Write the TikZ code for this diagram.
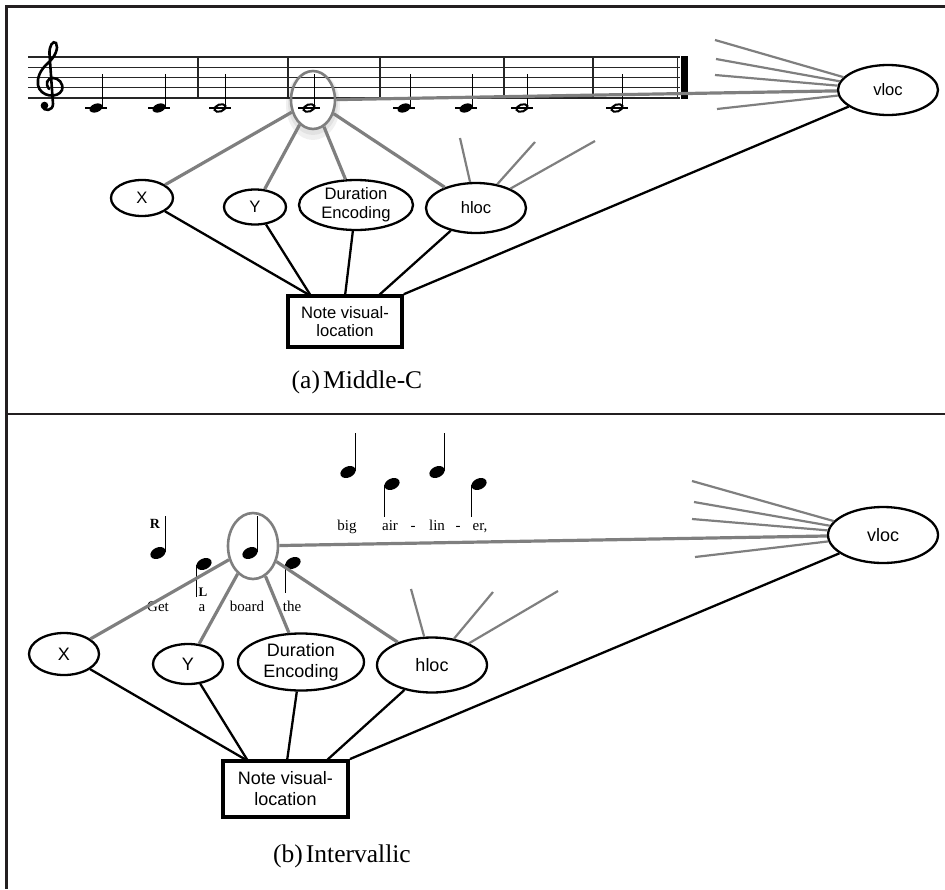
\documentclass[tikz,border=0pt]{standalone}
\usepackage{fontspec}
\setmainfont{Liberation Serif}
\setsansfont{Liberation Sans}
\usetikzlibrary{shapes.geometric}
\definecolor{lgray}{HTML}{7F7F7F}
\definecolor{framecol}{HTML}{231F20}
\begin{document}
\begin{tikzpicture}[x=1pt,y=-1pt,
  oval/.style={ellipse, draw=black, line width=2.3, fill=white, inner sep=0pt, align=center, font=\sffamily\fontsize{16.6}{19}\selectfont},
  ovalb/.style={oval, font=\sffamily\fontsize{18}{21}\selectfont},
  notebox/.style={rectangle, draw=black, line width=3.6, fill=white, inner sep=0pt, align=center, font=\sffamily\fontsize{16.6}{18}\selectfont},
  noteboxb/.style={notebox, line width=3.9, font=\sffamily\fontsize{18}{21}\selectfont},
  sel/.style={ellipse, draw=lgray, line width=2.6, inner sep=0pt},
  gline/.style={draw=lgray, line width=3.2},
  fline/.style={draw=lgray, line width=2.2},
  bline/.style={draw=black, line width=2.3},
  staffline/.style={draw=black!85, line width=1.3},
  qhead/.style={ellipse, fill=black, inner sep=0pt, minimum width=13.5, minimum height=8.5, rotate=20},
  hhead/.style={ellipse, draw=black, line width=2, inner sep=0pt, minimum width=11.5, minimum height=7, rotate=20},
  bhead/.style={ellipse, fill=black, inner sep=0pt, minimum width=16, minimum height=11, rotate=25},
  stem/.style={draw=black, line width=1.2},
  lyric/.style={font=\fontsize{15}{17}\selectfont, anchor=base, inner sep=0pt},
  fing/.style={font=\bfseries\fontsize{14}{16}\selectfont, anchor=base, inner sep=0pt},
  caption/.style={font=\fontsize{25.5}{28}\selectfont, anchor=base, inner sep=0pt},
]
\useasboundingbox (0,0) rectangle (945,889);

% frame
\draw[framecol, line width=2.6] (945,6.5) -- (6.5,6.5) -- (6.5,889);
\draw[framecol, line width=2.6] (6.5,414) -- (945,414);

% ================= panel (a) =================
% staff
\foreach \y in {57,67.25,77.5,87.75,98} \draw[staffline] (28,\y) -- (680,\y);
\foreach \x in {198,288,380,504,593} \draw[staffline] (\x,57) -- (\x,98);
\draw[staffline] (677.5,57) -- (677.5,98);
\fill[black] (680.5,56.4) rectangle (687.5,98.6);
% treble clef
\draw[line width=2.6, line cap=round] (42,106) .. controls (44,112) and (53,111) .. (53,104) -- (49.5,54)
  .. controls (49,46) and (53,40) .. (56,43) .. controls (59,48) and (55,57) .. (48,63)
  .. controls (40,70) and (37,78) .. (38,85) .. controls (40,97) and (58,99) .. (62,90)
  .. controls (64,83) and (58,78) .. (53,78) .. controls (47,78) and (45,84) .. (49,89);
\fill[black] (44.5,105.5) circle (3.8);
% ledger lines
\foreach \x in {96,159,220,309,404,466,522,617}
  \draw[line width=1.2] (\x-11,108) -- (\x+11,108);
% quarter notes
\foreach \x in {96,159,404,466}{
  \node[qhead] at (\x,108) {};
  \draw[stem] (\x+6.3,107) -- (\x+6.3,74);
}
% half notes
\foreach \x in {220,309,522,617}{
  \node[hhead] at (\x,108) {};
  \draw[stem] (\x+5.6,107) -- (\x+5.6,74);
}
% glow under selected note
\fill[black, opacity=0.06, even odd rule] (313,105) ellipse (27 and 35) (313,100) ellipse (22 and 29);
\fill[black, opacity=0.06, even odd rule] (313,103) ellipse (25 and 32) (313,100) ellipse (22 and 29);
\node[sel, minimum width=44, minimum height=58] (ovA) at (313,100) {};

% nodes
\node[oval, minimum width=62, minimum height=36] (Xa) at (142,198) {X};
\node[oval, minimum width=62, minimum height=35] (Ya) at (255,207) {Y};
\node[oval, minimum width=114, minimum height=50] (Da) at (356,205) {Duration\\Encoding};
\node[oval, minimum width=100, minimum height=50] (Ha) at (476,208) {hloc};
\node[oval, minimum width=100, minimum height=50] (Va) at (888,90) {vloc};
\node[notebox, minimum width=114, minimum height=51] (Ba) at (345,321.5) {Note visual-\\location};

% free ends
\coordinate (ba1) at (311,296);
\coordinate (ba2) at (345,296);
\coordinate (ba3) at (378,296);
\coordinate (fa1) at (715,40);
\coordinate (fa2) at (716,59);
\coordinate (fa3) at (715,75);
\coordinate (fa4) at (717,109);
\coordinate (ha1) at (460,138);
\coordinate (ha2) at (535,142);
\coordinate (ha3) at (595,141);

% connectors
\draw[bline] (Xa) -- (ba1);
\draw[bline] (Ya) -- (ba1);
\draw[bline] (Da) -- (ba2);
\draw[bline] (Ha) -- (ba3);
\draw[bline] (Va) -- (Ba.north east);
\draw[gline] (ovA) -- (Xa);
\draw[gline] (ovA) -- (Ya);
\draw[gline] (ovA) -- (Da);
\draw[gline] (ovA) -- (Ha);
\draw[gline] (ovA) -- (Va);
\foreach \c in {fa1,fa2,fa3,fa4} \draw[fline] (\c) -- (Va);
\foreach \c in {ha1,ha2,ha3} \draw[fline] (\c) -- (Ha);

\node[caption] (capA) at (357,388) {(a)\hspace{0.12em}Middle-C};

% ================= panel (b) =================
% lyrics
\node[lyric] (lg) at (158,611) {Get};
\node[lyric] (la) at (202,611) {a};
\node[lyric] (lbo) at (247,611) {board};
\node[lyric] (lt) at (292,611) {the};
\node[lyric] (lbi) at (347,530) {big};
\node[lyric] (lai) at (390,530) {air};
\node[lyric] (ld1) at (413,530) {-};
\node[lyric] (lli) at (437,530) {lin};
\node[lyric] (ld2) at (458,530) {-};
\node[lyric] (ler) at (480,530) {er,};
\node[fing] (fR) at (155,528) {R};
\node[fing, font=\bfseries\fontsize{13}{15}\selectfont] (fL) at (203,596) {L};
% notes
\node[bhead] at (158,553) {};  \draw[stem] (165.5,552) -- (165.5,516);
\node[bhead] at (204,564) {};  \draw[stem] (196.5,565) -- (196.5,597);
\node[bhead] at (250,553) {};  \draw[stem] (257.5,552) -- (257.5,516);
\node[bhead] at (293,563) {};  \draw[stem] (285.5,564) -- (285.5,593);
\node[bhead] at (348,472) {};  \draw[stem] (355.5,471) -- (355.5,433);
\node[bhead] at (392,484) {};  \draw[stem] (384.5,485) -- (384.5,517);
\node[bhead] at (437,472) {};  \draw[stem] (444.5,471) -- (444.5,433);
\node[bhead] at (479,484) {};  \draw[stem] (471.5,485) -- (471.5,517);
\node[sel, minimum width=50, minimum height=66] (ovB) at (253,546) {};

% nodes
\node[ovalb, minimum width=70, minimum height=42] (Xb) at (64,654) {X};
\node[ovalb, minimum width=70, minimum height=40] (Yb) at (188,664) {Y};
\node[ovalb, minimum width=126, minimum height=57] (Db) at (301,662) {Duration\\Encoding};
\node[ovalb, minimum width=110, minimum height=55] (Hb) at (432,665) {hloc};
\node[ovalb, minimum width=110, minimum height=56] (Vb) at (883,535) {vloc};
\node[noteboxb, minimum width=125, minimum height=56] (Bb) at (285.5,789) {Note visual-\\location};

\coordinate (bb1) at (248,761);
\coordinate (bb2) at (287,761);
\coordinate (bb3) at (326,761);
\coordinate (fb1) at (692,481);
\coordinate (fb2) at (694,502);
\coordinate (fb3) at (692,519);
\coordinate (fb4) at (695,557);
\coordinate (hb1) at (411,589);
\coordinate (hb2) at (493,592);
\coordinate (hb3) at (558,591);

\draw[bline] (Xb) -- (bb1);
\draw[bline] (Yb) -- (bb1);
\draw[bline] (Db) -- (bb2);
\draw[bline] (Hb) -- (bb3);
\draw[bline] (Vb) -- (Bb.north east);
\draw[gline] (ovB) -- (Xb);
\draw[gline] (ovB) -- (Yb);
\draw[gline] (ovB) -- (Db);
\draw[gline] (ovB) -- (Hb);
\draw[gline] (ovB) -- (Vb);
\foreach \c in {fb1,fb2,fb3,fb4} \draw[fline] (\c) -- (Vb);
\foreach \c in {hb1,hb2,hb3} \draw[fline] (\c) -- (Hb);

\node[caption] (capB) at (342,862) {(b)\hspace{0.12em}Intervallic};
\end{tikzpicture}
\end{document}
